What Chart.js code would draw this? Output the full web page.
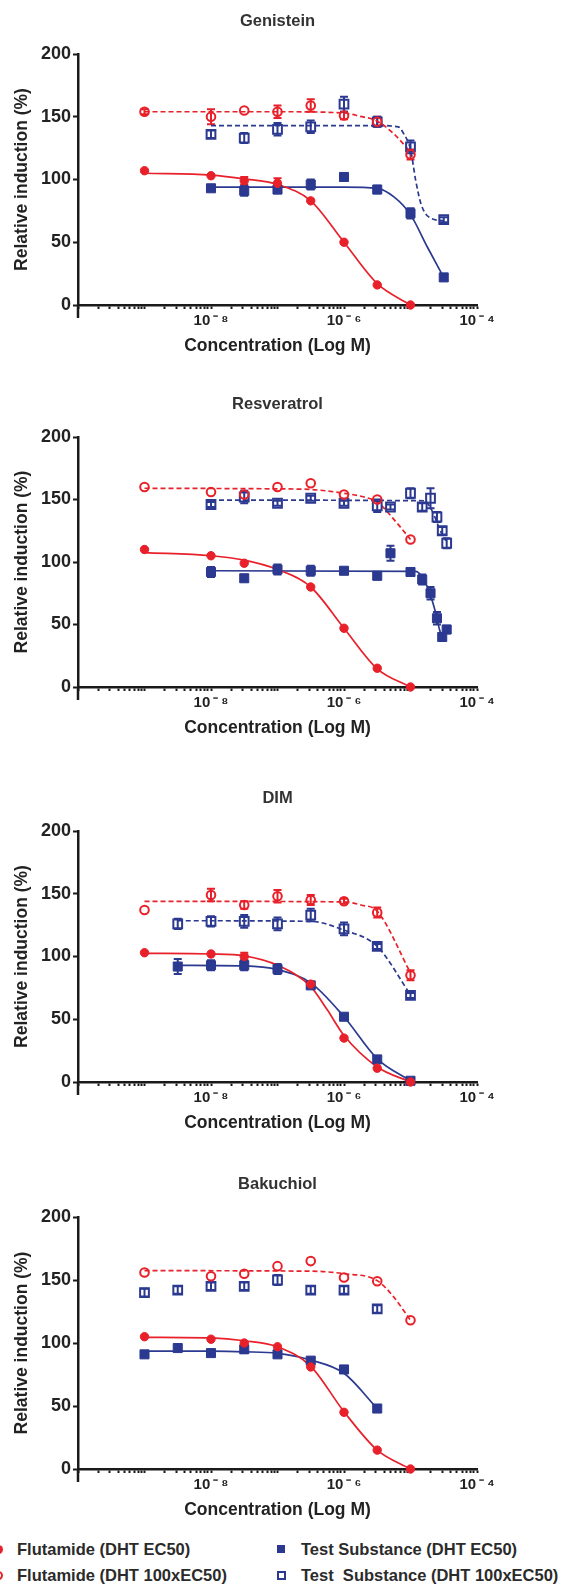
<!DOCTYPE html>
<html>
<head>
<meta charset="utf-8">
<script src="https://cdn.jsdelivr.net/npm/chart.js@4.4.0/dist/chart.umd.min.js"></script>
<style>
body { margin:0; background:#fff; width:562px; height:1585px; position:relative; overflow:hidden; font-family:"Liberation Sans", Arial, sans-serif; }
canvas { position:absolute; left:0; }
.lg { position:absolute; font-weight:bold; font-size:16.5px; line-height:18px; color:#2b2b2b; white-space:pre; }
.mk { position:absolute; box-sizing:border-box; }
</style>
</head>
<body>
<canvas id="c1" width="562" height="365" style="top:0px"></canvas>
<canvas id="c2" width="562" height="364" style="top:383px"></canvas>
<canvas id="c3" width="562" height="365" style="top:777px"></canvas>
<canvas id="c4" width="562" height="366" style="top:1163px"></canvas>

<div class="mk" style="left:-6px;top:1545px;width:9px;height:9px;border-radius:50%;background:#e8202a"></div>
<div class="lg" style="left:17px;top:1540px">Flutamide (DHT EC50)</div>
<div class="mk" style="left:-6px;top:1571px;width:9px;height:9px;border-radius:50%;border:2px solid #e8202a"></div>
<div class="lg" style="left:17px;top:1566px">Flutamide (DHT 100xEC50)</div>
<div class="mk" style="left:277px;top:1545px;width:8px;height:8px;background:#2b3990"></div>
<div class="lg" style="left:301px;top:1540px">Test Substance (DHT EC50)</div>
<div class="mk" style="left:277px;top:1571px;width:9px;height:9px;border:2px solid #2b3990"></div>
<div class="lg" style="left:301px;top:1566px">Test  Substance (DHT 100xEC50)</div>

<script>
// ---- Genistein ----
var genConc = [1e-9, 1e-8, 3.16e-8, 1e-7, 3.16e-7, 1e-6, 3.16e-6, 1e-5, 3.16e-5];
var genFlut = [107, 103, 99, 97, 83, 50, 16, 0, null];
var genFlutErr = [0, 0, 3, 4, 0, 0, 0, 0, 0];
var genTest = [null, 93, 91, 92, 96, 102, 92, 73, 22];
var genTestErr = [0, 2, 4, 3, 4, 0, 3, 4, 0];
var genFlut100 = [154, 150, 155, 154, 159, 151, 146, 120, null];
var genFlut100Err = [2, 6, 0, 5, 5, 3, 4, 4, 0];
var genTest100 = [null, 136, 133, 140, 142, 160, 146, 126, 68];
var genTest100Err = [0, 3, 4, 5, 5, 6, 4, 5, 2];
var genFlutFit = [[1e-9,105],[1e-8,103.5],[3.16e-8,100.5],[1e-7,96],[3.16e-7,83],[1e-6,50],[3.16e-6,17],[1e-5,0]];
var genTestFit = [[1e-8,94],[1e-6,94],[3.16e-6,93],[5.7e-6,86],[1e-5,72],[1.8e-5,46],[3.16e-5,22]];
var genFlut100Fit = [[1e-9,154],[1e-7,154],[1e-6,153],[1.7e-6,150.5],[3.16e-6,146.5],[5.7e-6,136],[1e-5,122]];
var genTest100Fit = [[1e-8,143],[3.16e-6,143],[6.5e-6,142],[8e-6,136],[1e-5,124],[1.2e-5,99],[1.45e-5,80],[1.9e-5,70],[3.16e-5,67]];

// ---- Resveratrol ----
var resConc = [1e-9, 1e-8, 3.16e-8, 1e-7, 3.16e-7, 1e-6, 3.16e-6, 1e-5];
var resFlut = [110, 105, 99, null, 80, 47, 15, 0];
var resFlut100 = [160, 156, 154, 160, 163, 154, 150, 118];
var resTestConc = [1e-8, 3.16e-8, 1e-7, 3.16e-7, 1e-6, 3.16e-6, 5e-6, 1e-5, 1.5e-5, 2e-5, 2.5e-5, 3e-5, 3.5e-5];
var resTest = [92, 87, 94, 93, 93, 89, 107, 92, 86, 75, 55, 40, 46];
var resTestErr = [4, 0, 4, 4, 0, 3, 6, 2, 4, 5, 5, 3, 3];
var resTest100 = [146, 152, 147, 151, 147, 145, 144, 155, 144, 151, 136, 125, 115];
var resTest100Err = [2, 5, 2, 2, 2, 5, 2, 4, 3, 8, 4, 3, 4];
var resFlutFit = [[1e-9,107.5],[1e-8,105],[3.16e-8,101.5],[1e-7,94],[3.16e-7,80],[1e-6,47],[3.16e-6,14.5],[1e-5,0]];
var resTestFit = [[1e-8,93],[1.2e-5,92.5],[1.6e-5,85.5],[1.95e-5,75],[2.4e-5,59],[2.8e-5,44],[3.4e-5,38]];
var resFlut100Fit = [[1e-9,159],[1e-7,158.5],[3.16e-7,158],[1e-6,155],[2e-6,152],[3.16e-6,148],[6.3e-6,131],[1e-5,118]];
var resTest100Fit = [[1e-8,149.5],[1.6e-5,149],[2.2e-5,139],[2.7e-5,127],[3.4e-5,117]];

// ---- DIM ----
var dimConc = [1e-9, 3.16e-9, 1e-8, 3.16e-8, 1e-7, 3.16e-7, 1e-6, 3.16e-6, 1e-5];
var dimFlut = [103, null, 102, 100, null, 78, 35, 11, 0];
var dimFlutErr = [0, 0, 0, 3, 0, 0, 0, 0, 0];
var dimTest = [null, 92, 93, 93, 90, 77, 52, 18, 1];
var dimTestErr = [0, 6, 4, 4, 4, 2, 2, 2, 2];
var dimFlut100 = [137, null, 149, 141, 148, 145, 144, 135, 85];
var dimFlut100Err = [0, 0, 5, 3, 5, 4, 2, 4, 4];
var dimTest100 = [null, 126, 128, 128, 126, 133, 122, 108, 69];
var dimTest100Err = [0, 4, 4, 5, 5, 5, 5, 2, 2];
var dimFlutFit = [[1e-9,102.5],[1e-8,102],[3.16e-8,100.5],[1e-7,93],[3.16e-7,76],[5.6e-7,57.5],[1e-6,37],[3.16e-6,12],[1e-5,0]];
var dimTestFit = [[3.16e-9,93],[3.16e-8,92.5],[1e-7,89.5],[3.16e-7,79],[1e-6,52],[3.16e-6,18.5],[1e-5,1]];
var dimFlut100Fit = [[1e-9,144],[1e-6,143.5],[1.8e-6,141],[3.16e-6,136],[1e-5,87]];
var dimTest100Fit = [[3.16e-9,128.5],[3.16e-7,128],[1e-6,121],[3.16e-6,108],[1e-5,69.5]];

// ---- Bakuchiol ----
var bakConc = [1e-9, 3.16e-9, 1e-8, 3.16e-8, 1e-7, 3.16e-7, 1e-6, 3.16e-6, 1e-5];
var bakFlut = [105, null, 103, 100, 97, 81, 45, 15, 0];
var bakTest = [91, 96, 92, 95, 91, 86, 79, 48, null];
var bakTestErr = [0, 0, 0, 3, 0, 0, 0, 0, 0];
var bakFlut100 = [156, null, 153, 155, 161, 165, 152, 149, 118];
var bakTest100 = [140, 142, 145, 145, 150, 142, 142, 127, null];
var bakTest100Err = [3, 3, 3, 3, 4, 3, 3, 3, 0];
var bakFlutFit = [[1e-9,104.5],[1e-8,104],[3.16e-8,101.8],[1e-7,97],[3.16e-7,81.5],[1e-6,45.5],[3.16e-6,15],[1e-5,0]];
var bakTestFit = [[1e-9,93.6],[1e-8,93.5],[3.16e-8,93],[1e-7,91.8],[3.16e-7,86.5],[1e-6,76],[3.16e-6,48]];
var bakFlut100Fit = [[1e-9,157.4],[3.16e-7,157],[1e-6,155],[3.16e-6,149.5],[5.5e-6,137],[1e-5,118]];

// axis ticks
var yTicks = [0, 50, 100, 150, 200];
var xLabelExp = [-8, -6, -4];

var RED = '#e8202a', BLUE = '#2b3990', INK = '#1a1a1a';
var FONT = '"Liberation Sans", Arial, sans-serif';

Chart.defaults.font.family = FONT;
Chart.defaults.font.weight = 'bold';
Chart.defaults.color = '#222';

function pts(conc, vals) {
  var out = [];
  for (var i = 0; i < conc.length; i++) {
    if (vals[i] !== null) out.push({x: conc[i], y: vals[i]});
  }
  return out;
}
function errs(vals, e) {
  var out = [];
  for (var i = 0; i < vals.length; i++) {
    if (vals[i] !== null) out.push(e ? e[i] : 0);
  }
  return out;
}

// kind: 'flut', 'test', 'flut100', 'test100'
function dots(conc, vals, e, kind) {
  var red = kind.indexOf('flut') === 0;
  var open = kind.indexOf('100') > 0;
  var col = red ? RED : BLUE;
  return {
    data: pts(conc, vals),
    errors: errs(vals, e),
    showLine: false,
    pointStyle: red ? 'circle' : 'rect',
    pointRadius: red ? (open ? 4.3 : 4.2) : (open ? 6.2 : 6.4),
    pointBackgroundColor: open ? 'rgba(255,255,255,0)' : col,
    pointBorderColor: col,
    pointBorderWidth: open ? 2 : 1,
    borderColor: col,
    clip: false,
    order: 1
  };
}
function fit(pairs, kind) {
  var red = kind.indexOf('flut') === 0;
  var dashed = kind.indexOf('100') > 0;
  return {
    data: pairs.map(function(p) { return {x: p[0], y: p[1]}; }),
    showLine: true,
    pointRadius: 0,
    borderColor: red ? RED : BLUE,
    borderWidth: 1.7,
    borderDash: dashed ? [5, 3] : [],
    cubicInterpolationMode: 'monotone',
    clip: false,
    order: 2
  };
}

function supExp(e) {
  var map = {'-': '\u207B', '4': '\u2074', '6': '\u2076', '8': '\u2078'};
  return String(e).split('').map(function(c) { return map[c]; }).join('\u2009');
}

// error bars under the markers, panel title over the plot, y axis running a bit below zero
var extras = {
  id: 'extras',
  beforeDatasetsDraw: function(chart) {
    var ctx = chart.ctx, xs = chart.scales.x, ys = chart.scales.y;
    chart.data.datasets.forEach(function(ds) {
      if (!ds.errors) return;
      ctx.save();
      ctx.strokeStyle = ds.borderColor;
      ctx.lineWidth = 2;
      ds.data.forEach(function(p, i) {
        var e = ds.errors[i];
        if (!e) return;
        var x = xs.getPixelForValue(p.x);
        var y1 = ys.getPixelForValue(p.y - e), y2 = ys.getPixelForValue(p.y + e);
        ctx.beginPath();
        ctx.moveTo(x, y1); ctx.lineTo(x, y2);
        ctx.moveTo(x - 4, y1); ctx.lineTo(x + 4, y1);
        ctx.moveTo(x - 4, y2); ctx.lineTo(x + 4, y2);
        ctx.stroke();
      });
      ctx.restore();
    });
  },
  afterDraw: function(chart, args, opts) {
    var a = chart.chartArea, ctx = chart.ctx;
    ctx.save();
    ctx.strokeStyle = INK;
    ctx.lineWidth = 2.5;
    ctx.beginPath();
    ctx.moveTo(a.left, a.bottom);
    ctx.lineTo(a.left, a.bottom + 13);
    ctx.stroke();
    ctx.fillStyle = '#333';
    ctx.font = 'bold 16.5px ' + FONT;
    ctx.textAlign = 'center';
    ctx.textBaseline = 'middle';
    ctx.fillText(opts.title, (a.left + a.right) / 2, a.top - 33);
    ctx.restore();
  }
};

function makePanel(id, title, datasets) {
  return new Chart(document.getElementById(id), {
    type: 'scatter',
    data: { datasets: datasets },
    plugins: [extras],
    options: {
      responsive: false,
      animation: false,
      events: [],
      layout: { padding: { left: 0, right: 85, top: 54, bottom: 0 } },
      plugins: {
        legend: { display: false },
        tooltip: { enabled: false },
        extras: { title: title }
      },
      scales: {
        x: {
          type: 'logarithmic', min: 1e-10, max: 1e-4,
          afterBuildTicks: function(scale) {
            var t = [];
            for (var e = -10; e < -4; e++) {
              for (var m = 1; m < 10; m++) t.push({value: m * Math.pow(10, e)});
            }
            t.push({value: 1e-4});
            scale.ticks = t;
          },
          afterFit: function(scale) { scale.height = 60; },
          ticks: {
            autoSkip: false, maxRotation: 0, padding: 3, color: '#222',
            font: { size: 15, weight: 'bold' },
            callback: function(v) {
              var e = Math.round(Math.log10(v));
              if (Math.abs(v - Math.pow(10, e)) / v > 1e-6) return '';
              if (xLabelExp.indexOf(e) < 0) return '';
              return '10\u2009' + supExp(e);
            }
          },
          grid: { drawOnChartArea: false, drawTicks: true, tickLength: 4, tickWidth: 2, tickColor: INK },
          border: { color: INK, width: 2.5 },
          title: {
            display: true, text: 'Concentration (Log M)', color: '#222',
            font: { size: 17.5, weight: 'bold' }, padding: { top: 0, bottom: 8.5 }
          }
        },
        y: {
          min: 0, max: 200,
          afterBuildTicks: function(scale) {
            scale.ticks = yTicks.map(function(v) { return {value: v}; });
          },
          afterFit: function(scale) { scale.width = 78; },
          ticks: { padding: 2, color: '#222', font: { size: 18, weight: 'bold' } },
          grid: { drawOnChartArea: false, drawTicks: true, tickLength: 5, tickWidth: 2, tickColor: INK },
          border: { color: INK, width: 2.5 },
          title: {
            display: true, text: 'Relative induction (%)', color: '#222',
            font: { size: 17.5, weight: 'bold' }, padding: { top: 11.5, bottom: 0 }
          }
        }
      }
    }
  });
}

makePanel('c1', 'Genistein', [
  dots(genConc, genFlut, genFlutErr, 'flut'),
  dots(genConc, genTest, genTestErr, 'test'),
  dots(genConc, genFlut100, genFlut100Err, 'flut100'),
  dots(genConc, genTest100, genTest100Err, 'test100'),
  fit(genFlutFit, 'flut'),
  fit(genTestFit, 'test'),
  fit(genFlut100Fit, 'flut100'),
  fit(genTest100Fit, 'test100')
]);

makePanel('c2', 'Resveratrol', [
  dots(resConc, resFlut, null, 'flut'),
  dots(resTestConc, resTest, resTestErr, 'test'),
  dots(resConc, resFlut100, null, 'flut100'),
  dots(resTestConc, resTest100, resTest100Err, 'test100'),
  fit(resFlutFit, 'flut'),
  fit(resTestFit, 'test'),
  fit(resFlut100Fit, 'flut100'),
  fit(resTest100Fit, 'test100')
]);

makePanel('c3', 'DIM', [
  dots(dimConc, dimFlut, dimFlutErr, 'flut'),
  dots(dimConc, dimTest, dimTestErr, 'test'),
  dots(dimConc, dimFlut100, dimFlut100Err, 'flut100'),
  dots(dimConc, dimTest100, dimTest100Err, 'test100'),
  fit(dimFlutFit, 'flut'),
  fit(dimTestFit, 'test'),
  fit(dimFlut100Fit, 'flut100'),
  fit(dimTest100Fit, 'test100')
]);

makePanel('c4', 'Bakuchiol', [
  dots(bakConc, bakFlut, null, 'flut'),
  dots(bakConc, bakTest, bakTestErr, 'test'),
  dots(bakConc, bakFlut100, null, 'flut100'),
  dots(bakConc, bakTest100, bakTest100Err, 'test100'),
  fit(bakFlutFit, 'flut'),
  fit(bakTestFit, 'test'),
  fit(bakFlut100Fit, 'flut100')
]);
</script>
</body>
</html>
